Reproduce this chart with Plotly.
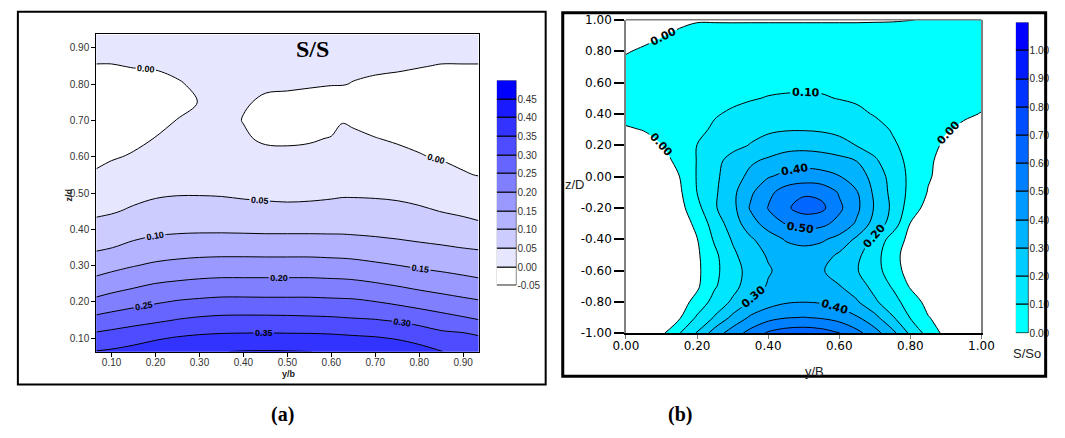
import plotly.graph_objects as go

# ---------------- Panel (a): S/S over y/b (x) and z/d (y) ----------------
A_X = [0.065, 0.10, 0.15, 0.20, 0.25, 0.30, 0.35, 0.40, 0.45, 0.50, 0.55, 0.60, 0.625,
       0.65, 0.70, 0.75, 0.80, 0.85, 0.90, 0.935]
A_Y = [0.063, 0.10, 0.15, 0.20, 0.25, 0.30, 0.35, 0.40, 0.45, 0.50, 0.55, 0.60, 0.65,
       0.70, 0.75, 0.80, 0.85, 0.90, 0.937]
A_Z = [
    [0.352, 0.356, 0.365, 0.376, 0.385, 0.393, 0.399, 0.402, 0.403, 0.402, 0.4005, 0.396, 0.394, 0.392, 0.386, 0.377, 0.366, 0.351, 0.340, 0.333],
    [0.318, 0.324, 0.334, 0.345, 0.354, 0.360, 0.363, 0.364, 0.365, 0.364, 0.364, 0.362, 0.360, 0.358, 0.354, 0.347, 0.336, 0.321, 0.318, 0.308],
    [0.265, 0.273, 0.283, 0.292, 0.302, 0.309, 0.313, 0.314, 0.314, 0.313, 0.311, 0.309, 0.307, 0.305, 0.302, 0.295, 0.284, 0.271, 0.259, 0.251],
    [0.212, 0.222, 0.234, 0.245, 0.254, 0.259, 0.263, 0.263, 0.262, 0.262, 0.262, 0.260, 0.259, 0.258, 0.251, 0.241, 0.230, 0.220, 0.211, 0.205],
    [0.167, 0.177, 0.189, 0.201, 0.207, 0.212, 0.215, 0.215, 0.215, 0.215, 0.215, 0.213, 0.212, 0.210, 0.203, 0.194, 0.184, 0.176, 0.167, 0.161],
    [0.127, 0.136, 0.148, 0.158, 0.164, 0.168, 0.170, 0.170, 0.170, 0.170, 0.170, 0.168, 0.167, 0.165, 0.158, 0.151, 0.143, 0.137, 0.131, 0.127],
    [0.093, 0.099, 0.111, 0.120, 0.125, 0.128, 0.129, 0.129, 0.128, 0.128, 0.128, 0.126, 0.125, 0.123, 0.118, 0.113, 0.108, 0.104, 0.099, 0.096],
    [0.066, 0.072, 0.082, 0.089, 0.092, 0.093, 0.093, 0.092, 0.091, 0.091, 0.091, 0.091, 0.091, 0.090, 0.088, 0.085, 0.081, 0.076, 0.069, 0.062],
    [0.042, 0.046, 0.056, 0.064, 0.067, 0.068, 0.067, 0.064, 0.062, 0.060, 0.061, 0.064, 0.065, 0.065, 0.064, 0.061, 0.056, 0.049, 0.042, 0.037],
    [0.022, 0.029, 0.037, 0.044, 0.047, 0.047, 0.046, 0.043, 0.041, 0.040, 0.041, 0.043, 0.045, 0.045, 0.044, 0.042, 0.037, 0.030, 0.022, 0.016],
    [0.003, 0.011, 0.020, 0.029, 0.035, 0.036, 0.036, 0.030, 0.026, 0.025, 0.026, 0.030, 0.033, 0.032, 0.029, 0.025, 0.019, 0.012, 0.002, -0.001],
    [-0.006, -0.003, 0.003, 0.015, 0.024, 0.026, 0.027, 0.017, 0.010, 0.009, 0.011, 0.016, 0.021, 0.020, 0.015, 0.009, 0.002, -0.003, -0.006, -0.008],
    [-0.012, -0.010, -0.007, 0.001, 0.013, 0.016, 0.018, 0.004, -0.005, -0.006, -0.004, 0.002, 0.010, 0.008, 0.001, -0.004, -0.007, -0.010, -0.012, -0.014],
    [-0.019, -0.018, -0.015, -0.011, 0.001, 0.007, 0.010, -0.001, -0.019, -0.020, -0.019, -0.013, -0.002, -0.006, -0.012, -0.014, -0.016, -0.017, -0.019, -0.020],
    [-0.014, -0.015, -0.017, -0.018, -0.009, 0.001, 0.006, 0.002, -0.003, -0.005, -0.007, -0.011, -0.014, -0.017, -0.016, -0.016, -0.016, -0.016, -0.015, -0.014],
    [-0.008, -0.008, -0.008, -0.007, -0.002, 0.004, 0.007, 0.006, 0.003, 0.003, 0.002, 0.001, 0.001, -0.001, -0.004, -0.006, -0.008, -0.009, -0.008, -0.008],
    [-0.001, -0.001, 0.001, 0.002, 0.005, 0.008, 0.010, 0.010, 0.007, 0.007, 0.007, 0.006, 0.006, 0.005, 0.004, 0.003, 0.001, -0.001, -0.001, -0.001],
    [0.008, 0.008, 0.009, 0.010, 0.011, 0.012, 0.013, 0.013, 0.012, 0.012, 0.012, 0.011, 0.011, 0.010, 0.010, 0.010, 0.009, 0.008, 0.008, 0.008],
    [0.015, 0.015, 0.015, 0.015, 0.015, 0.015, 0.015, 0.015, 0.015, 0.015, 0.015, 0.015, 0.015, 0.015, 0.015, 0.015, 0.015, 0.015, 0.015, 0.015],
]
A_BANDS = [-0.05, 0.00, 0.05, 0.10, 0.15, 0.20, 0.25, 0.30, 0.35, 0.40, 0.45]
A_STEP = 0.05
A_COLORS = ['#ffffff', '#e6e6ff', '#ccccff', '#b3b3ff', '#9999ff', '#8080ff',
            '#6666ff', '#4d4dff', '#3333ff', '#1a1aff', '#0000ff']
A_TICKS = [0.10, 0.20, 0.30, 0.40, 0.50, 0.60, 0.70, 0.80, 0.90]
A_TICKTEXT = ['0.10', '0.20', '0.30', '0.40', '0.50', '0.60', '0.70', '0.80', '0.90']
A_BAR_TEXT = ['-0.05', '0.00', '0.05', '0.10', '0.15', '0.20', '0.25', '0.30', '0.35', '0.40', '0.45']

# ---------------- Panel (b): S/So over y/B (x) and z/D (y) ----------------
B_X = [0.00, 0.05, 0.10, 0.15, 0.20, 0.25, 0.30, 0.35, 0.40, 0.45, 0.50,
       0.55, 0.60, 0.65, 0.70, 0.75, 0.80, 0.85, 0.90, 0.95, 1.00]
B_Y = [-1.0, -0.9, -0.8, -0.7, -0.6, -0.5, -0.4, -0.3, -0.2, -0.1, 0.0,
       0.1, 0.2, 0.3, 0.4, 0.5, 0.6, 0.7, 0.8, 0.9, 1.0]
B_Z = [
    [-0.09, -0.06, -0.02, 0.095, 0.21, 0.35, 0.45, 0.535, 0.615, 0.65, 0.66, 0.645, 0.605, 0.53, 0.44, 0.33, 0.18, 0.065, -0.03, -0.06, -0.08],
    [-0.12, -0.10, -0.07, -0.012, 0.115, 0.21, 0.325, 0.415, 0.465, 0.495, 0.503, 0.49, 0.46, 0.41, 0.33, 0.21, 0.095, 0.005, -0.04, -0.07, -0.09],
    [-0.14, -0.115, -0.085, -0.04, 0.03, 0.14, 0.215, 0.31, 0.36, 0.39, 0.398, 0.39, 0.36, 0.31, 0.215, 0.14, 0.05, -0.03, -0.07, -0.095, -0.11],
    [-0.15, -0.125, -0.095, -0.06, -0.015, 0.09, 0.17, 0.245, 0.31, 0.345, 0.36, 0.345, 0.305, 0.245, 0.17, 0.09, -0.01, -0.06, -0.09, -0.11, -0.125],
    [-0.15, -0.125, -0.095, -0.065, -0.02, 0.075, 0.165, 0.23, 0.29, 0.335, 0.345, 0.31, 0.255, 0.205, 0.14, 0.045, -0.04, -0.075, -0.10, -0.12, -0.135],
    [-0.14, -0.12, -0.09, -0.06, -0.015, 0.08, 0.18, 0.255, 0.31, 0.355, 0.368, 0.345, 0.285, 0.22, 0.14, 0.03, -0.04, -0.07, -0.095, -0.115, -0.13],
    [-0.13, -0.11, -0.085, -0.05, -0.003, 0.115, 0.21, 0.285, 0.355, 0.408, 0.424, 0.415, 0.37, 0.28, 0.18, 0.055, -0.025, -0.06, -0.085, -0.105, -0.12],
    [-0.12, -0.10, -0.075, -0.045, 0.02, 0.15, 0.245, 0.36, 0.44, 0.505, 0.540, 0.525, 0.47, 0.385, 0.26, 0.16, -0.003, -0.04, -0.07, -0.09, -0.11],
    [-0.11, -0.09, -0.06, -0.035, 0.07, 0.19, 0.27, 0.41, 0.505, 0.585, 0.638, 0.625, 0.52, 0.42, 0.29, 0.18, 0.05, -0.035, -0.06, -0.08, -0.10],
    [-0.10, -0.08, -0.05, -0.018, 0.101, 0.185, 0.275, 0.382, 0.47, 0.55, 0.585, 0.570, 0.490, 0.405, 0.280, 0.170, 0.075, -0.005, -0.04, -0.07, -0.09],
    [-0.09, -0.07, -0.04, -0.001, 0.106, 0.180, 0.254, 0.325, 0.393, 0.425, 0.440, 0.432, 0.404, 0.350, 0.264, 0.160, 0.080, 0.008, -0.03, -0.06, -0.08],
    [-0.07, -0.05, -0.025, 0.018, 0.104, 0.168, 0.239, 0.285, 0.318, 0.350, 0.363, 0.355, 0.335, 0.298, 0.215, 0.140, 0.075, 0.012, -0.025, -0.05, -0.07],
    [-0.04, -0.02, -0.002, 0.045, 0.101, 0.135, 0.168, 0.205, 0.238, 0.262, 0.266, 0.255, 0.230, 0.196, 0.160, 0.112, 0.072, 0.028, -0.015, -0.035, -0.05],
    [-0.006, 0.002, 0.027, 0.052, 0.078, 0.114, 0.145, 0.168, 0.185, 0.194, 0.195, 0.190, 0.178, 0.158, 0.130, 0.093, 0.062, 0.037, 0.006, -0.012, -0.025],
    [0.018, 0.033, 0.047, 0.061, 0.076, 0.093, 0.112, 0.128, 0.140, 0.148, 0.150, 0.146, 0.136, 0.118, 0.094, 0.072, 0.053, 0.036, 0.021, 0.009, -0.002],
    [0.023, 0.035, 0.046, 0.056, 0.065, 0.074, 0.083, 0.094, 0.104, 0.109, 0.110, 0.107, 0.097, 0.088, 0.078, 0.068, 0.057, 0.046, 0.035, 0.023, 0.012],
    [0.022, 0.032, 0.041, 0.049, 0.056, 0.063, 0.069, 0.074, 0.078, 0.081, 0.083, 0.083, 0.081, 0.078, 0.072, 0.065, 0.057, 0.048, 0.038, 0.028, 0.018],
    [0.015, 0.025, 0.033, 0.040, 0.046, 0.051, 0.055, 0.058, 0.060, 0.061, 0.061, 0.061, 0.061, 0.060, 0.058, 0.055, 0.050, 0.045, 0.040, 0.033, 0.027],
    [-0.004, 0.008, 0.018, 0.026, 0.033, 0.038, 0.041, 0.043, 0.043, 0.043, 0.043, 0.043, 0.043, 0.043, 0.043, 0.042, 0.040, 0.037, 0.034, 0.030, 0.026],
    [-0.03, -0.016, -0.003, 0.010, 0.018, 0.023, 0.026, 0.027, 0.027, 0.027, 0.027, 0.027, 0.027, 0.027, 0.027, 0.027, 0.027, 0.028, 0.029, 0.030, 0.030],
    [-0.06, -0.045, -0.03, -0.012, -0.004, -0.005, -0.006, -0.006, -0.006, -0.006, -0.006, -0.006, -0.006, -0.006, -0.005, -0.004, -0.001, 0.003, 0.006, 0.008, 0.010],
]
B_BANDS = [0.0, 0.1, 0.2, 0.3, 0.4, 0.5, 0.6, 0.7, 0.8, 0.9, 1.0]
B_STEP = 0.1
B_COLORS = ['#00ffff', '#00e6ff', '#00ccff', '#00b3ff', '#0099ff', '#0080ff',
            '#0066ff', '#004dff', '#0033ff', '#001aff', '#0000ff']
B_XTICKS = [0.0, 0.2, 0.4, 0.6, 0.8, 1.0]
B_XTICKTEXT = ['0.00', '0.20', '0.40', '0.60', '0.80', '1.00']
B_YTICKS = [-1.0, -0.8, -0.6, -0.4, -0.2, 0.0, 0.2, 0.4, 0.6, 0.8, 1.0]
B_YTICKTEXT = ['-1.00', '-0.80', '-0.60', '-0.40', '-0.20', '0.00', '0.20', '0.40', '0.60', '0.80', '1.00']
B_BAR_TEXT = ['0.00', '0.10', '0.20', '0.30', '0.40', '0.50', '0.60', '0.70', '0.80', '0.90', '1.00']

W, H = 1065, 438


def px(x):
    return x / W


def py(y):
    return 1 - y / H


def scale(colors):
    n = len(colors)
    return [[i / (n - 1), c] for i, c in enumerate(colors)]


fig = go.Figure()

# panel (a) contour
fig.add_trace(go.Contour(
    x=A_X, y=A_Y, z=A_Z,
    autocontour=False,
    contours=dict(start=A_BANDS[1], end=A_BANDS[-1], size=A_STEP, coloring='fill',
                  showlabels=True, labelformat='.2f',
                  labelfont=dict(family='Arial, Liberation Sans', size=9, color='black', weight='bold')),
    line=dict(color='black', width=1, smoothing=1),
    colorscale=scale(A_COLORS), showscale=False, hoverinfo='skip',
    xaxis='x', yaxis='y'))

# panel (b) contour
fig.add_trace(go.Contour(
    x=B_X, y=B_Y, z=B_Z,
    autocontour=False,
    contours=dict(start=B_BANDS[0], end=B_BANDS[-1], size=B_STEP, coloring='fill',
                  showlabels=True, labelformat='.2f',
                  labelfont=dict(family='DejaVu Sans', size=11, color='black', weight='bold')),
    line=dict(color='black', width=1, smoothing=1),
    colorscale=scale(['#ffffff'] + B_COLORS), showscale=False, hoverinfo='skip',
    xaxis='x2', yaxis='y2'))

# colour keys drawn as stacked bands
fig.add_trace(go.Bar(
    x=[0] * len(A_BANDS), y=[A_STEP] * len(A_BANDS), base=A_BANDS, width=[1] * len(A_BANDS),
    marker=dict(color=A_COLORS, line=dict(color='black', width=1)),
    xaxis='x3', yaxis='y3', showlegend=False, hoverinfo='skip'))
fig.add_trace(go.Bar(
    x=[0] * len(B_BANDS), y=[B_STEP] * len(B_BANDS), base=B_BANDS, width=[1] * len(B_BANDS),
    marker=dict(color=B_COLORS, line=dict(color='black', width=1)),
    xaxis='x4', yaxis='y4', showlegend=False, hoverinfo='skip'))

tf_a = dict(family='Arial, Liberation Sans', size=10, color='#333333')
tf_b = dict(family='DejaVu Sans', size=12, color='black')

fig.update_layout(
    width=W, height=H, margin=dict(l=0, r=0, t=0, b=0, pad=0),
    paper_bgcolor='white', plot_bgcolor='white', showlegend=False,
    xaxis=dict(domain=[px(85.3), px(477.2)], range=[A_X[0], A_X[-1]], anchor='y',
               tickvals=A_TICKS, ticktext=A_TICKTEXT, ticks='outside', ticklen=4,
               ticklabelstandoff=-3,
               tickcolor='black', showline=True, linecolor='black', linewidth=1, mirror=True,
               showgrid=False, zeroline=False, tickfont=tf_a),
    yaxis=dict(domain=[py(356), py(28.3)], range=[A_Y[0], A_Y[-1]], anchor='x',
               tickvals=A_TICKS, ticktext=A_TICKTEXT, ticks='outside', ticklen=4,
               tickcolor='black', showline=True, linecolor='black', linewidth=1, mirror=True,
               showgrid=False, zeroline=False, tickfont=tf_a),
    xaxis2=dict(domain=[px(628.3), px(992.7)], range=[0, 1], anchor='y2',
                tickvals=B_XTICKS, ticktext=B_XTICKTEXT, ticks='outside', ticklen=4,
                ticklabelstandoff=-3,
                tickcolor='#777777', showline=True, linecolor='black', linewidth=1.5,
                showgrid=False, zeroline=False, tickfont=tf_b),
    yaxis2=dict(domain=[py(337), py(13.3)], range=[-1, 1], anchor='x2',
                tickvals=B_YTICKS, ticktext=B_YTICKTEXT, ticks='outside', ticklen=10,
                tickwidth=1.5, tickcolor='black', showline=True, linecolor='#808080',
                linewidth=1.5, mirror=True, showgrid=False, zeroline=False, tickfont=tf_b),
    xaxis3=dict(domain=[px(496), px(516)], range=[-0.5, 0.5], anchor='y3', visible=False),
    yaxis3=dict(domain=[py(288), py(76)], range=[A_BANDS[0], A_BANDS[-1] + A_STEP],
                anchor='x3', side='right', tickvals=A_BANDS, ticktext=A_BAR_TEXT,
                ticks='', showline=False, showgrid=False, zeroline=False, tickfont=tf_a),
    xaxis4=dict(domain=[px(1028), px(1041)], range=[-0.5, 0.5], anchor='y4', visible=False),
    yaxis4=dict(domain=[py(337), py(16)], range=[B_BANDS[0], B_BANDS[-1] + B_STEP],
                anchor='x4', side='right', tickvals=B_BANDS, ticktext=B_BAR_TEXT,
                ticks='', showline=False, showgrid=False, zeroline=False,
                tickfont=dict(family='Liberation Sans Narrow, Arial Narrow, Liberation Sans',
                              size=10, color='#222222')),
    bargap=0,
)

ann = [
    dict(text='<b>S/S</b>', x=px(307), y=py(43), font=dict(family='Liberation Serif, Times New Roman', size=24, color='black')),
    dict(text='<b>z/d</b>', x=px(57), y=py(194), textangle=-90, font=dict(family='Arial, Liberation Sans', size=9, color='#222')),
    dict(text='<b>y/b</b>', x=px(283), y=py(379), font=dict(family='Arial, Liberation Sans', size=9, color='#222')),
    dict(text='z/D', x=px(576), y=py(183), font=dict(family='Arial, Liberation Sans', size=13, color='#222')),
    dict(text='y/B', x=px(822), y=py(377), font=dict(family='Arial, Liberation Sans', size=13, color='#222')),
    dict(text='S/So', x=px(1039), y=py(358), font=dict(family='Arial, Liberation Sans', size=13, color='#222')),
    dict(text='<b>(a)</b>', x=px(276), y=py(421), font=dict(family='Liberation Serif, Times New Roman', size=20, color='black')),
    dict(text='<b>(b)</b>', x=px(684), y=py(421), font=dict(family='Liberation Serif, Times New Roman', size=20, color='black')),
]
for a in ann:
    a.update(xref='paper', yref='paper', showarrow=False, xanchor='center', yanchor='middle')
fig.update_layout(annotations=ann)

fig.update_layout(shapes=[
    dict(type='rect', xref='paper', yref='paper', x0=px(5), x1=px(546), y0=py(390), y1=py(5),
         line=dict(color='black', width=2), fillcolor='rgba(0,0,0,0)', layer='above'),
    dict(type='rect', xref='paper', yref='paper', x0=px(563.5), x1=px(1058.5), y0=py(381.5), y1=py(6),
         line=dict(color='black', width=3), fillcolor='rgba(0,0,0,0)', layer='above'),
    dict(type='line', xref='x2 domain', yref='y2 domain', x0=0, x1=1, y0=1, y1=1,
         line=dict(color='#808080', width=1.5), layer='above'),
])

fig.write_html('out.html', config={'displayModeBar': False},
               post_script="document.body.style.margin='0px';document.body.style.overflow='hidden';")
